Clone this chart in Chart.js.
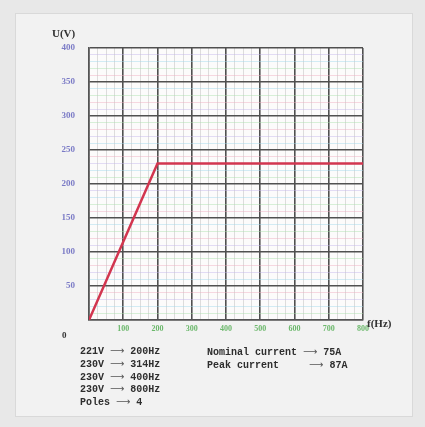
<!DOCTYPE html>
<html>
<head>
<meta charset="utf-8">
<script src="https://cdn.jsdelivr.net/npm/chart.js@4/dist/chart.umd.min.js"></script>
<style>
  body { margin: 0; background: #e8e8e8; }
  #wrap { position: relative; width: 425px; height: 427px; overflow: hidden; }
  #panel { position: absolute; left: 15px; top: 13px; width: 396px; height: 402px; background: #f2f2f2; border: 1px solid #d9d9d9; }
  canvas { position: absolute; left: 0; top: 0; }
  .note { position: absolute; font-family: "Liberation Mono", monospace; font-weight: bold; font-size: 10px; line-height: 11.8px; color: #2e2e2e; white-space: pre; }
  .ar { font-family: "DejaVu Sans", sans-serif; font-weight: normal; font-size: 10px; color: #555; }
</style>
</head>
<body>
<div id="wrap">
  <div id="panel"></div>
  <canvas id="vf" width="425" height="427"></canvas>
  <div class="note" style="left:80px; top:345px;">221V <span class="ar">⟶</span> 200Hz
230V <span class="ar">⟶</span> 314Hz
230V <span class="ar">⟶</span> 400Hz
230V <span class="ar">⟶</span> 800Hz
Poles <span class="ar">⟶</span> 4</div>
  <div class="note" style="left:207px; top:346px;">Nominal current <span class="ar">⟶</span> 75A
Peak current     <span class="ar">⟶</span> 87A</div>
</div>
<script>
// data
const freq = [0, 200, 800];      // Hz
const volt = [0, 230, 230];      // V
const xLabels = [100, 200, 300, 400, 500, 600, 700, 800];
const yLabels = [50, 100, 150, 200, 250, 300, 350, 400];

const pastel = ["rgba(240,170,190,0.45)", "rgba(170,225,170,0.45)", "rgba(160,215,235,0.45)", "rgba(195,180,235,0.45)"];

const axisText = {
  id: "axisText",
  beforeDatasetsDraw(chart) {
    const { ctx, chartArea } = chart;
    ctx.save();
    ctx.fillStyle = "#333";
    ctx.font = "bold 11px 'Liberation Serif'";
    ctx.textBaseline = "middle";
    ctx.fillText("U(V)", chartArea.left - 37, chartArea.top - 14);
    ctx.fillText("f(Hz)", chartArea.right + 4, chartArea.bottom + 4);
    ctx.font = "bold 9px 'Liberation Serif'";
    ctx.fillText("0", chartArea.left - 27, chartArea.bottom + 16);
    ctx.restore();
  }
};

const bg = {
  id: "bg",
  beforeDraw(chart) {
    const { ctx, chartArea } = chart;
    ctx.save();
    ctx.fillStyle = "#fcfbfb";
    ctx.fillRect(chartArea.left, chartArea.top, chartArea.width, chartArea.height);
    ctx.restore();
  }
};

new Chart(document.getElementById("vf"), {
  type: "line",
  data: {
    datasets: [{
      data: freq.map((f, i) => ({ x: f, y: volt[i] })),
      borderColor: "#d2354f",
      borderWidth: 2.5,
      pointRadius: 0,
      tension: 0,
      fill: false
    }]
  },
  options: {
    responsive: false,
    animation: false,
    layout: { padding: { left: 0, right: 62, top: 48, bottom: 87 } },
    plugins: { legend: { display: false }, tooltip: { enabled: false } },
    scales: {
      x: {
        type: "linear",
        min: 0, max: 800,
        afterFit(s) { s.height = 20; },
        border: { display: true, color: "#555", width: 1.5 },
        grid: {
          drawTicks: false,
          color: c => c.tick.value % 100 === 0 ? "#505050" : "rgba(200,200,200,0.6)",
          lineWidth: c => c.tick.value % 100 === 0 ? 1.6 : 1
        },
        ticks: {
          stepSize: 25, autoSkip: false, maxRotation: 0, padding: 4,
          color: "#6cb86c",
          font: { family: "Liberation Serif", size: 8, weight: "bold" },
          callback: v => xLabels.includes(v) ? String(v) : ""
        }
      },
      y: {
        min: 0, max: 400,
        afterFit(s) { s.width = 89; },
        border: { display: true, color: "#555", width: 1.5 },
        grid: {
          drawTicks: false,
          color: c => c.tick.value % 50 === 0 ? "#505050" : pastel[(c.tick.value / 10) % pastel.length],
          lineWidth: c => c.tick.value % 50 === 0 ? 1.6 : 1
        },
        ticks: {
          stepSize: 10, autoSkip: false, padding: 14,
          color: "#7b7bc6",
          font: { family: "Liberation Serif", size: 9, weight: "bold" },
          callback: v => yLabels.includes(v) ? String(v) : ""
        }
      }
    }
  },
  plugins: [bg, axisText]
});
</script>
</body>
</html>
